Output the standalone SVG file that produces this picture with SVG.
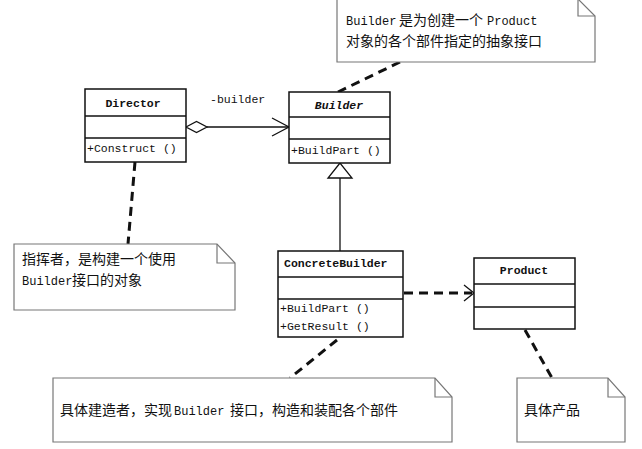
<svg xmlns="http://www.w3.org/2000/svg" width="642" height="449" viewBox="0 0 642 449">
<style>
.box{fill:#fff;stroke:#111;stroke-width:1.5}
.div{stroke:#111;stroke-width:1.5}
.t{font-family:"Liberation Mono","Noto Sans CJK SC",monospace;font-size:11.5px;fill:#111}
.b{font-weight:bold}
.note{fill:#fff;stroke:#777;stroke-width:1.2}
.fold{fill:none;stroke:#777;stroke-width:1.2}
.nt{font-family:"Noto Sans CJK SC","Liberation Mono",sans-serif;font-size:14px;fill:#111}
.lat{font-family:"Liberation Mono",monospace;font-size:12px;fill:#111}
.dash{stroke:#111;stroke-width:3;stroke-dasharray:9,6;fill:none}
.ln{stroke:#111;stroke-width:1.3;fill:none}
</style>
<rect width="642" height="449" fill="#fff"/>
<g id="connectors">
<line class="dash" x1="400" y1="62" x2="338" y2="92"/>
<line class="dash" x1="135" y1="162" x2="128" y2="244"/>
<line class="dash" x1="337" y1="340" x2="290" y2="378"/>
<line class="dash" x1="525" y1="330" x2="552" y2="378"/>
<line class="dash" x1="404" y1="293" x2="472" y2="293"/>
<polyline class="ln" stroke-width="1.8" points="464,285 474,293 464,301"/>
<line class="ln" x1="207" y1="127" x2="289" y2="127"/>
<polygon points="186,127 196.5,121.5 207,127 196.5,132.5" fill="#fff" stroke="#111" stroke-width="1.3"/>
<polyline class="ln" points="272,118 289,127 272,136"/>
<line class="ln" x1="340" y1="178" x2="340" y2="251"/>
<polygon points="340,163 328,178 352,178" fill="#fff" stroke="#111" stroke-width="1.3"/>
<text class="t" x="210" y="103">-builder</text>
</g>
<g id="director">
<rect class="box" x="85" y="89" width="101" height="73"/>
<line class="div" x1="85" y1="116" x2="186" y2="116"/>
<line class="div" x1="85" y1="138" x2="186" y2="138"/>
<text class="t b" x="133" y="107" text-anchor="middle">Director</text>
<text class="t" x="87" y="152">+Construct ()</text>
</g>
<g id="builder">
<rect class="box" x="289" y="92" width="101" height="71"/>
<line class="div" x1="289" y1="117" x2="390" y2="117"/>
<line class="div" x1="289" y1="139" x2="390" y2="139"/>
<text class="t b" x="339" y="109" text-anchor="middle" font-style="italic">Builder</text>
<text class="t" x="291" y="154">+BuildPart ()</text>
</g>
<g id="concretebuilder">
<rect class="box" x="278" y="251" width="125" height="86"/>
<line class="div" x1="278" y1="277" x2="403" y2="277"/>
<line class="div" x1="278" y1="299" x2="403" y2="299"/>
<text class="t b" x="284" y="267">ConcreteBuilder</text>
<text class="t" x="280" y="312">+BuildPart ()</text>
<text class="t" x="280" y="330">+GetResult ()</text>
</g>
<g id="product">
<rect class="box" x="474" y="258" width="101" height="71"/>
<line class="div" x1="474" y1="284" x2="575" y2="284"/>
<line class="div" x1="474" y1="307" x2="575" y2="307"/>
<text class="t b" x="524" y="274" text-anchor="middle">Product</text>
</g>
<g id="note-builder">
<path class="note" d="M337,-1 H578 L595,16 V62 H337 Z"/>
<path class="fold" d="M578,-1 V16 H595"/>
<text class="lat" x="346" y="25">Builder</text>
<text class="nt" x="399" y="25">是为创建一个</text>
<text class="lat" x="487" y="25">Product</text>
<text class="nt" x="346" y="45.5">对象的各个部件指定的抽象接口</text>
</g>
<g id="note-director">
<path class="note" d="M14,244 H217 L235,263 V310 H14 Z"/>
<path class="fold" d="M217,244 V263 H235"/>
<text class="nt" x="22" y="264">指挥者，是构建一个使用</text>
<text class="lat" x="22" y="284.5">Builder</text>
<text class="nt" x="72" y="284.5">接口的对象</text>
</g>
<g id="note-concrete">
<path class="note" d="M53,378 H435 L452,397 V442 H53 Z"/>
<path class="fold" d="M435,378 V397 H452"/>
<text class="nt" x="60" y="415">具体建造者，实现</text>
<text class="lat" x="174" y="415">Builder</text>
<text class="nt" x="230" y="415">接口，构造和装配各个部件</text>
</g>
<g id="note-product">
<path class="note" d="M517,378 H608 L625,397 V442 H517 Z"/>
<path class="fold" d="M608,378 V397 H625"/>
<text class="nt" x="524" y="415">具体产品</text>
</g>
</svg>
